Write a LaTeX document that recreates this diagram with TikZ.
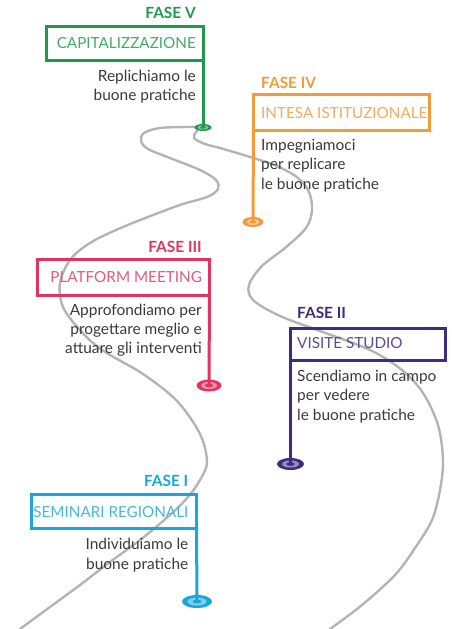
\documentclass[tikz,border=0pt]{standalone}
\usepackage{fontspec}
\setmainfont{Lato}
\usetikzlibrary{shapes.geometric}
\definecolor{roadgray}{HTML}{B4B4B4}
\definecolor{desctext}{HTML}{3A3A3A}
\definecolor{cgreen}{HTML}{1F9A4B}
\definecolor{tgreen}{HTML}{45A96A}
\definecolor{corange}{HTML}{F39A3A}
\definecolor{torange}{HTML}{F5A95F}
\definecolor{cred}{HTML}{E3345F}
\definecolor{tred}{HTML}{E45A7C}
\definecolor{cpurple}{HTML}{3F2B7F}
\definecolor{tpurple}{HTML}{5C4C8C}
\definecolor{cblue}{HTML}{1AA6DC}
\definecolor{tblue}{HTML}{45B6E2}
\begin{document}
\begin{tikzpicture}[x=1bp,y=-1bp,
  road/.style={draw=roadgray, line width=2.4bp, line cap=round},
  fase/.style={font=\fontsize{15.5}{18}\selectfont\bfseries, inner sep=0pt},
  ttl/.style={font=\fontsize{15.3}{18}\selectfont, inner sep=0pt},
  desc/.style={font=\fontsize{15.5}{18}\selectfont, inner sep=0pt, text=desctext},
  flagbox/.style={draw, line width=3bp, inner sep=0pt, outer sep=0pt},
  pole/.style={line width=3bp},
  marker/.style={ellipse, inner sep=0pt, outer sep=0pt},
]
\useasboundingbox (0,0) rectangle (452,629);

% road edges
\draw[road] plot[smooth, tension=0.55] coordinates {
 (203,127) (187,127) (160,128) (144,133) (141,141) (148,149) (170,158) (200,170)
 (216,180) (218,189) (207,197) (177,206) (123,227) (90,243) (70,260) (60,283)
 (63,307) (80,330) (102,350) (143,374) (177,401) (200,434) (207,462) (200,480)
 (188,497) (170,515) (140,540) (110,562) (80,585) (50,607) (20,629)};
\draw[road] plot[smooth, tension=0.55] coordinates {
 (197,131) (194,138) (205,144) (220,148) (250,157) (277,166) (298,178) (309,192)
 (312,210) (306,228) (285,248) (262,266) (249,285) (253,300) (280,316) (320,331)
 (370,350) (402,370) (423,393) (438,425) (443,460) (440,490) (432,520) (415,548)
 (395,575) (362,605) (330,629)};

% ---------- FASE V (green) ----------
\node[flagbox, draw=cgreen, anchor=north east, minimum width=156bp, minimum height=34bp] (gbox) at (203,26.5) {};
\node[marker, fill=cgreen, minimum width=17bp, minimum height=7bp] (gm) at (203,127.5) {};
\fill[cgreen!55!white] (gm.center) ellipse [x radius=5.5bp, y radius=2.2bp];
\fill[cgreen] (gm.center) ellipse [x radius=2.8bp, y radius=1.2bp];
\draw[pole, cgreen] (gbox.south east) -- (gm.center);
\node[fase, text=cgreen, anchor=base east] (gf) at (196,19) {FASE V};
\node[ttl, text=tgreen, anchor=base east] (gt) at (196,48.5) {CAPITALIZZAZIONE};
\node[desc, anchor=base east] (gd1) at (196,82) {Replichiamo le};
\node[desc, anchor=base east] (gd2) at (196,100.5) {buone pratiche};

% ---------- FASE IV (orange) ----------
\node[flagbox, draw=corange, anchor=north west, minimum width=175.5bp, minimum height=36bp] (obox) at (253.5,95) {};
\node[marker, fill=corange, minimum width=21bp, minimum height=10bp] (om) at (253,222) {};
\fill[corange!55!white] (om.center) ellipse [x radius=6.5bp, y radius=3bp];
\fill[corange] (om.center) ellipse [x radius=3.2bp, y radius=1.5bp];
\draw[pole, corange] (obox.south west) -- (om.center);
\node[fase, text=corange, anchor=base west] (of) at (261,88.5) {FASE IV};
\node[ttl, text=torange, anchor=base west] (ot) at (261,118.5) {INTESA ISTITUZIONALE};
\node[desc, anchor=base west] (od1) at (261,151) {Impegniamoci};
\node[desc, anchor=base west] (od2) at (261,170) {per replicare};
\node[desc, anchor=base west] (od3) at (261,189) {le buone pratiche};

% ---------- FASE III (red) ----------
\node[flagbox, draw=cred, anchor=north east, minimum width=171.5bp, minimum height=35.5bp] (rbox) at (209.5,259.5) {};
\node[marker, fill=cred, minimum width=25bp, minimum height=12bp] (rm) at (209,385.5) {};
\fill[cred!55!white] (rm.center) ellipse [x radius=8bp, y radius=3.6bp];
\fill[cred] (rm.center) ellipse [x radius=4bp, y radius=1.8bp];
\draw[pole, cred] (rbox.south east) -- (rm.center);
\node[fase, text=cred, anchor=base east] (rf) at (202,252) {FASE III};
\node[ttl, text=tred, anchor=base east] (rt) at (202,282.5) {PLATFORM MEETING};
\node[desc, anchor=base east] (rd1) at (202,315) {Approfondiamo per};
\node[desc, anchor=base east] (rd2) at (202,334) {progettare meglio e};
\node[desc, anchor=base east] (rd3) at (202,353) {attuare gli interventi};

% ---------- FASE II (purple) ----------
\node[flagbox, draw=cpurple, anchor=north west, minimum width=155bp, minimum height=32bp] (pbox) at (290.5,328) {};
\node[marker, fill=cpurple, minimum width=27bp, minimum height=12bp] (pm) at (290.5,464) {};
\fill[cpurple!55!white] (pm.center) ellipse [x radius=8.5bp, y radius=3.6bp];
\fill[cpurple] (pm.center) ellipse [x radius=4.2bp, y radius=1.8bp];
\draw[pole, cpurple] (pbox.south west) -- (pm.center);
\node[fase, text=cpurple, anchor=base west] (pf) at (297,318.5) {FASE II};
\node[ttl, text=tpurple, anchor=base west] (pt) at (297,348.5) {VISITE STUDIO};
\node[desc, anchor=base west] (pd1) at (297,381) {Scendiamo in campo};
\node[desc, anchor=base west] (pd2) at (297,400.5) {per vedere};
\node[desc, anchor=base west] (pd3) at (297,420) {le buone pratiche};

% ---------- FASE I (blue) ----------
\node[flagbox, draw=cblue, anchor=north east, minimum width=165bp, minimum height=34bp] (bbox) at (196.5,494.5) {};
\node[marker, fill=cblue, minimum width=30bp, minimum height=13bp] (bm) at (197,601.5) {};
\fill[cblue!55!white] (bm.center) ellipse [x radius=9.5bp, y radius=4bp];
\fill[cblue] (bm.center) ellipse [x radius=4.5bp, y radius=2bp];
\draw[pole, cblue] (bbox.south east) -- (bm.center);
\node[fase, text=cblue, anchor=base east] (bf) at (188.5,486) {FASE I};
\node[ttl, text=tblue, anchor=base east] (bt) at (188.5,517) {SEMINARI REGIONALI};
\node[desc, anchor=base east] (bd1) at (188.5,549.5) {Individuiamo le};
\node[desc, anchor=base east] (bd2) at (188.5,569) {buone pratiche};
\end{tikzpicture}
\end{document}
